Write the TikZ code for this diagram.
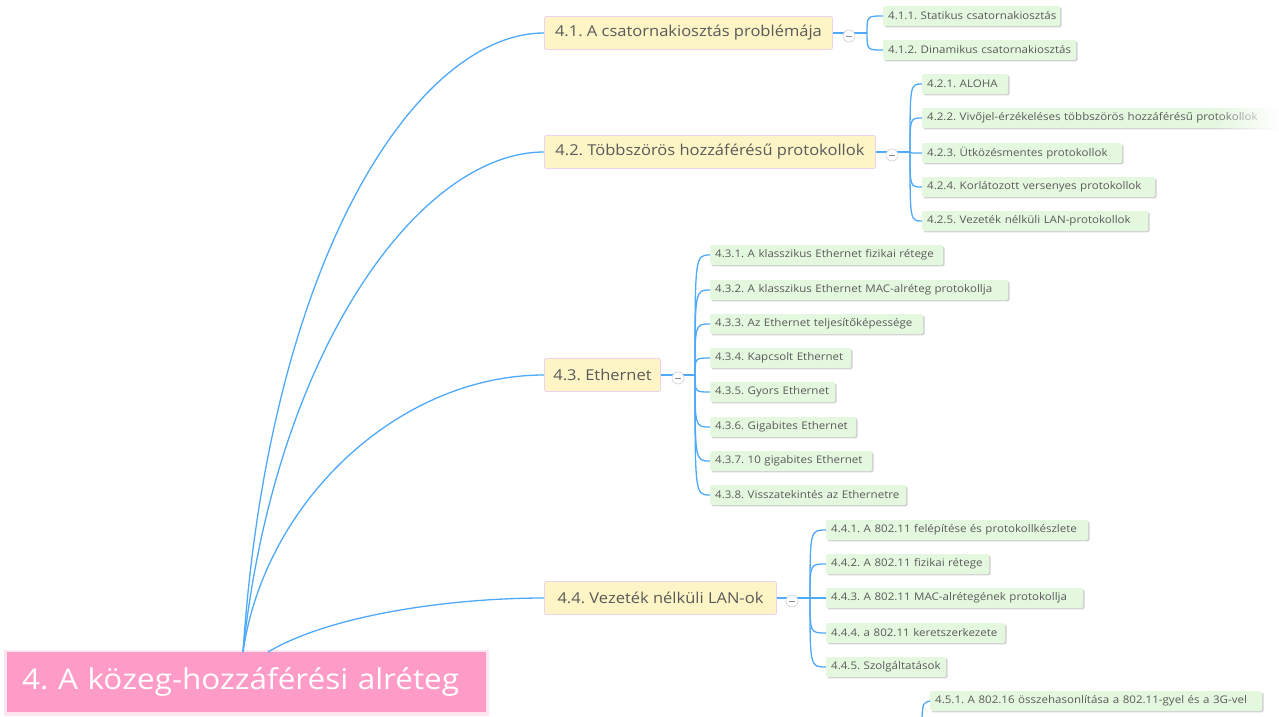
\documentclass[tikz,border=0pt]{standalone}
\usepackage{fontspec}
\setmainfont[FakeStretch=1.1]{Open Sans}
\usetikzlibrary{shadows,fadings}
\definecolor{edgeblue}{HTML}{4FA9FA}
\definecolor{lonefill}{HTML}{FDF5C6}
\definecolor{loneborder}{HTML}{EBD2EE}
\definecolor{ltwofill}{HTML}{E4F8DF}
\definecolor{txtgrey}{HTML}{5A5A5A}
\definecolor{rootpink}{HTML}{FF9BC7}
\tikzfading[name=fadein, left color=transparent!100, right color=transparent!0]
\tikzset{
  rootbox/.style={fill=rootpink, anchor=north west, minimum height=60pt, inner xsep=15pt, inner ysep=0pt,
    text=white, font=\fontsize{28.6}{32}\selectfont, align=left},
  lone/.style={draw=loneborder, fill=lonefill, line width=0.9pt, rounded corners=2pt, anchor=west,
    minimum height=33pt, inner xsep=0pt, inner ysep=0pt, text=txtgrey, font=\fontsize{15}{18}\selectfont},
  ltwo/.style={fill=ltwofill, rounded corners=1.5pt, anchor=west, minimum height=20pt, inner xsep=5pt,
    inner ysep=0pt, text=txtgrey, font=\fontsize{10.5}{12}\selectfont, align=left,
    drop shadow={shadow xshift=1.3pt, shadow yshift=-1.3pt, fill=black, opacity=0.18}},
  conn/.style={draw=edgeblue, line width=1.3pt},
  toggle/.style={circle, draw=black!18, fill=white, line width=0.6pt, minimum size=12pt, inner sep=0pt},
}
\newcommand{\togdash}[1]{\draw[black!45, line width=0.8pt] ([xshift=-3pt]#1.center) -- ([xshift=3pt]#1.center);}
\frenchspacing
\begin{document}
\frenchspacing
\begin{tikzpicture}[x=1pt,y=-1pt]
\useasboundingbox (0,0) rectangle (1279,717);
\fill[white] (0,0) rectangle (1279,717);

% root
\fill[rootpink, opacity=0.25] (4,650) rectangle (489,716);
\node[rootbox, minimum width=479pt, text width=449pt] (root) at (7,652) {\mbox{4. A közeg-hozzáférési alréteg}};
\coordinate (ra) at (243,652);
\coordinate (rb) at (268,652);

% level 1
\node[lone, minimum width=288pt] (n41) at (544,33) {4.1. A csatornakiosztás problémája};
\node[lone, minimum width=331pt] (n42) at (544,152) {4.2. Többszörös hozzáférésű protokollok};
\node[lone, minimum width=116pt] (n43) at (544,375) {4.3. Ethernet};
\node[lone, minimum width=232pt] (n44) at (544,598) {4.4. Vezeték nélküli LAN-ok};

% root connectors
\draw[conn] (ra) .. controls (270,250) and (420,33) .. (n41.west);
\draw[conn] (ra) .. controls (275,350) and (420,152) .. (n42.west);
\draw[conn] (ra) .. controls (265,500) and (400,375) .. (n43.west);
\draw[conn] (rb) .. controls (330,615) and (450,598) .. (n44.west);

% level 2: 4.1
\node[ltwo, text width=167pt] (c411) at (883,16) {\mbox{4.1.1. Statikus csatornakiosztás}};
\node[ltwo, text width=183pt] (c412) at (883,50) {\mbox{4.1.2. Dinamikus csatornakiosztás}};
% 4.2
\node[ltwo, text width=76pt] (c421) at (922,84) {\mbox{4.2.1. ALOHA}};
\node[ltwo, text width=347pt] (c422) at (922,118) {\mbox{4.2.2. Vivőjel-érzékeléses többszörös hozzáférésű protokollok}};
\fill[white, path fading=fadein] (1212,105) rectangle (1279,131);
\node[ltwo, text width=190pt] (c423) at (922,153) {\mbox{4.2.3. Ütközésmentes protokollok}};
\node[ltwo, text width=223pt] (c424) at (922,187) {\mbox{4.2.4. Korlátozott versenyes protokollok}};
\node[ltwo, text width=216pt] (c425) at (922,221) {\mbox{4.2.5. Vezeték nélküli LAN-protokollok}};
% 4.3
\node[ltwo, text width=223pt] (c431) at (710,255) {\mbox{4.3.1. A klasszikus Ethernet fizikai rétege}};
\node[ltwo, text width=288pt] (c432) at (710,290) {\mbox{4.3.2. A klasszikus Ethernet MAC-alréteg protokollja}};
\node[ltwo, text width=203pt] (c433) at (710,324) {\mbox{4.3.3. Az Ethernet teljesítőképessége}};
\node[ltwo, text width=131pt] (c434) at (710,358) {\mbox{4.3.4. Kapcsolt Ethernet}};
\node[ltwo, text width=115pt] (c435) at (710,392) {\mbox{4.3.5. Gyors Ethernet}};
\node[ltwo, text width=136pt] (c436) at (710,427) {\mbox{4.3.6. Gigabites Ethernet}};
\node[ltwo, text width=152pt] (c437) at (710,461) {\mbox{4.3.7. 10 gigabites Ethernet}};
\node[ltwo, text width=186pt] (c438) at (710,495) {\mbox{4.3.8. Visszatekintés az Ethernetre}};
% 4.4
\node[ltwo, text width=252pt] (c441) at (826,530) {\mbox{4.4.1. A 802.11 felépítése és protokollkészlete}};
\node[ltwo, text width=153pt] (c442) at (826,564) {\mbox{4.4.2. A 802.11 fizikai rétege}};
\node[ltwo, text width=247pt] (c443) at (826,598) {\mbox{4.4.3. A 802.11 MAC-alrétegének protokollja}};
\node[ltwo, text width=169pt] (c444) at (826,633) {\mbox{4.4.4. a 802.11 keretszerkezete}};
\node[ltwo, text width=110pt] (c445) at (826,667) {\mbox{4.4.5. Szolgáltatások}};
% 4.5
\node[ltwo, text width=322pt] (c451) at (930,701) {\mbox{4.5.1. A 802.16 összehasonlítása a 802.11-gyel és a 3G-vel}};
\coordinate (b45) at (922,717);

% branch points
\coordinate (b41) at (867,33);
\coordinate (b42) at (910,152);
\coordinate (b43) at (695,375);
\coordinate (b44) at (810,598);

% level-1 to branch lines
\draw[conn] (n41.east) -- (b41);
\draw[conn] (n42.east) -- (b42);
\draw[conn] (n43.east) -- (b43);
\draw[conn] (n44.east) -- (b44);

% branch to children
\foreach \c in {c411,c412} \draw[conn] (b41) .. controls (b41 |- \c.west) .. (\c.west);
\foreach \c in {c421,c422,c423,c424,c425} \draw[conn] (b42) .. controls (b42 |- \c.west) .. (\c.west);
\foreach \c in {c431,c432,c433,c434,c435,c436,c437,c438} \draw[conn] (b43) .. controls (b43 |- \c.west) .. (\c.west);
\foreach \c in {c441,c442,c443,c444,c445} \draw[conn] (b44) .. controls (b44 |- \c.west) .. (\c.west);
\draw[conn] (b45) .. controls (923,703) .. (c451.west);

% toggles
\node[toggle] (t41) at (849,36) {};
\node[toggle] (t42) at (892,155) {};
\node[toggle] (t43) at (678,378) {};
\node[toggle] (t44) at (792,601) {};
\togdash{t41}
\togdash{t42}
\togdash{t43}
\togdash{t44}
\end{tikzpicture}
\end{document}
